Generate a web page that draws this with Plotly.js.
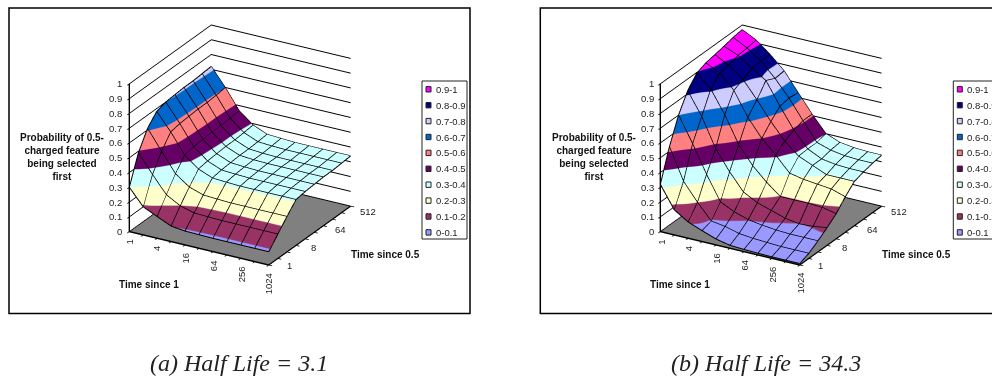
<!DOCTYPE html>
<html><head><meta charset="utf-8">
<script src="https://cdn.plot.ly/plotly-3.0.1.min.js"></script>
<style>html,body{margin:0;padding:0;background:#fff;overflow:hidden}</style></head>
<body><div id="chart" style="width:992px;height:377px"></div>
<script>
const timeSince1 = [1,2,4,8,16,32,64,128,256,512,1024];
const timeSince05 = [1,2,4,8,16,32,64,128,256,512];
const xTickLabels = ['1','','4','','16','','64','','256','','1024'];
const yTickLabels = ['1','','','8','','','64','','','512'];
const zTicks = [0,0.1,0.2,0.3,0.4,0.5,0.6,0.7,0.8,0.9,1];
const bandLabels = ['0.9-1','0.8-0.9','0.7-0.8','0.6-0.7','0.5-0.6','0.4-0.5','0.3-0.4','0.2-0.3','0.1-0.2','0-0.1'];
const bandColors = ['#FF00FF','#000080','#CCCCFF','#0066CC','#FF8080','#660066','#CCFFFF','#FFFFCC','#993366','#9999FF'];
// rows: Time since 0.5 (1..512); columns: Time since 1 (1..1024)
const probA = [
 [.30,.19,.147,.105,.094,.092,.09,.09,.09,.09,.09],
 [.49,.365,.25,.197,.172,.168,.165,.165,.165,.165,.165],
 [.61,.478,.348,.28,.249,.244,.24,.24,.24,.24,.24],
 [.68,.565,.431,.358,.32,.314,.31,.31,.31,.31,.31],
 [.70,.577,.443,.368,.33,.324,.32,.32,.32,.32,.32],
 [.705,.582,.448,.373,.335,.329,.325,.325,.325,.325,.325],
 [.71,.587,.453,.378,.34,.333,.33,.33,.33,.33,.33],
 [.71,.587,.453,.378,.34,.333,.33,.33,.33,.33,.33],
 [.715,.592,.458,.383,.344,.338,.335,.335,.335,.335,.335],
 [.72,.60,.465,.39,.35,.345,.34,.34,.34,.34,.34]
];
const probB = [
 [.32,.17,.11,.074,.04,.02,.015,.012,.01,.01,.01],
 [.53,.32,.20,.095,.08,.055,.045,.04,.035,.035,.035],
 [.70,.53,.345,.18,.135,.105,.09,.08,.075,.075,.075],
 [.82,.67,.475,.34,.225,.175,.145,.115,.10,.105,.12],
 [.895,.81,.66,.48,.36,.27,.195,.195,.195,.19,.17],
 [.92,.875,.78,.62,.50,.41,.31,.29,.28,.27,.24],
 [.932,.88,.81,.695,.57,.46,.38,.34,.30,.30,.30],
 [.944,.905,.84,.78,.63,.49,.385,.34,.325,.32,.32],
 [.96,.91,.845,.75,.64,.51,.385,.355,.34,.335,.335],
 [.968,.92,.845,.757,.633,.51,.40,.363,.35,.345,.345]
];

const W = 992, H = 377;
const px = v => v / W, py = v => 1 - v / H;
const lvl = bandColors.slice().reverse();
const scale = [];
lvl.forEach((c, i) => { scale.push([i / 10, c]); scale.push([(i + 1) / 10, c]); });
const xi = timeSince1.map((_, i) => i), yi = timeSince05.map((_, j) => j);

function surf(z, scene) {
  const line = {show: true, color: '#000', width: 6, highlight: false};
  return {type: 'surface', scene, x: xi, y: yi, z, cmin: 0, cmax: 1, colorscale: scale, showscale: false,
    hoverinfo: 'skip',
    lighting: {ambient: 1, diffuse: 0, specular: 0, roughness: 1, fresnel: 0},
    contours: {x: {...line, start: 0, end: 10, size: 1}, y: {...line, start: 0, end: 9, size: 1}, z: {show: false}}};
}
function wire(z, scene) {
  const X = [], Y = [], Z = [];
  yi.forEach(j => { xi.forEach(i => { X.push(i); Y.push(j); Z.push(z[j][i]); }); X.push(null); Y.push(null); Z.push(null); });
  xi.forEach(i => { yi.forEach(j => { X.push(i); Y.push(j); Z.push(z[j][i]); }); X.push(null); Y.push(null); Z.push(null); });
  return {type: 'scatter3d', scene, mode: 'lines', x: X, y: Y, z: Z, connectgaps: false,
    line: {color: '#000', width: 2}, hoverinfo: 'skip', showlegend: false};
}
function sceneCfg(cx) {
  const ax = {showgrid: false, zeroline: false, showline: true, linecolor: '#000', linewidth: 3,
    ticks: 'outside', ticklen: 4, tickcolor: '#000', tickwidth: 2, showticklabels: false,
    showspikes: false, showbackground: false, title: {text: ''}};
  const ann = [];
  const base = {showarrow: false, font: {family: 'Liberation Sans, Arial', size: 9.5, color: '#222'}};
  xTickLabels.forEach((t, i) => { if (t) ann.push({...base, x: i, y: 0, z: 0, text: t, textangle: -90, yanchor: 'top', xanchor: 'center', yshift: -6}); });
  yTickLabels.forEach((t, j) => { if (t) ann.push({...base, x: 10, y: j, z: 0, text: t, xanchor: 'left', yanchor: 'middle', xshift: 16 - j, yshift: -0.55 * j}); });
  zTicks.forEach(v => ann.push({...base, x: 0, y: 0, z: v, text: String(v), xanchor: 'right', yanchor: 'middle', xshift: -5}));
  const d = 1.6;
  return {
    domain: {x: [px(cx - 180), px(cx + 180)], y: [py(145 + 140), py(145 - 140)]},
    aspectmode: 'manual', aspectratio: {x: 1.15, y: 1.17, z: 1.16},
    camera: {projection: {type: 'orthographic'}, up: {x: 0, y: 0, z: 1}, center: {x: 0, y: 0, z: 0},
      eye: {x: 0.455 * d, y: -0.788 * d, z: 0.415 * d}},
    xaxis: {...ax, range: [0, 10], tickvals: xi},
    yaxis: {...ax, range: [0, 9], tickvals: yi},
    zaxis: {...ax, range: [0, 1], tickvals: zTicks, showgrid: true, gridcolor: '#000', gridwidth: 2,
      showbackground: true, backgroundcolor: '#808080'},
    annotations: ann
  };
}
const shapes = [], annotations = [];
function rect(x0, y0, x1, y1, fill, lw, col) {
  shapes.push({type: 'rect', xref: 'paper', yref: 'paper', x0: px(x0), x1: px(x1), y0: py(y0), y1: py(y1),
    fillcolor: fill, line: {color: col || '#000', width: lw}, layer: 'above'});
}
function txt(x, y, text, opts) {
  annotations.push(Object.assign({xref: 'paper', yref: 'paper', x: px(x), y: py(y), text, showarrow: false,
    xanchor: 'center', yanchor: 'middle', font: {family: 'Liberation Sans, Arial', size: 9.5, color: '#222'}}, opts || {}));
}
function panel(dx, caption, captionX, right) {
  rect(9 + dx, 8, right, 313.5, 'rgba(0,0,0,0)', 1.5);
  rect(422 + dx, 81, 467 + dx, 239, 'rgba(0,0,0,0)', 1, '#222');
  bandColors.forEach((c, i) => {
    const y = 89.3 + i * 15.9;
    rect(426 + dx, y - 2.7, 431 + dx, y + 2.7, c, 1, '#222');
    txt(434 + dx, y, bandLabels[i], {xanchor: 'left'});
  });
  const bold = {family: 'Liberation Sans, Arial', size: 10, color: '#111'};
  txt(62.3 + dx, 157.5, '<b>Probability of 0.5-<br>charged feature<br>being selected<br>first</b>', {font: bold});
  txt(148.7 + dx, 284.3, '<b>Time since 1</b>', {font: bold});
  txt(385 + dx, 254.7, '<b>Time since 0.5</b>', {font: bold});
  txt(captionX, 363, caption, {font: {family: 'Liberation Serif, Times New Roman', size: 24, color: '#222'}});
}
panel(0, '<i>(a) Half Life = 3.1</i>', 239, 470);
panel(531.3, '<i>(b) Half Life = 34.3</i>', 766, 1000);

Plotly.newPlot('chart', [surf(probA, 'scene'), wire(probA, 'scene'), surf(probB, 'scene2'), wire(probB, 'scene2')], {
  width: W, height: H, margin: {l: 0, r: 0, t: 0, b: 0}, paper_bgcolor: '#fff', showlegend: false,
  scene: sceneCfg(240), scene2: sceneCfg(771.3), shapes, annotations
}, {displayModeBar: false});
</script></body></html>
